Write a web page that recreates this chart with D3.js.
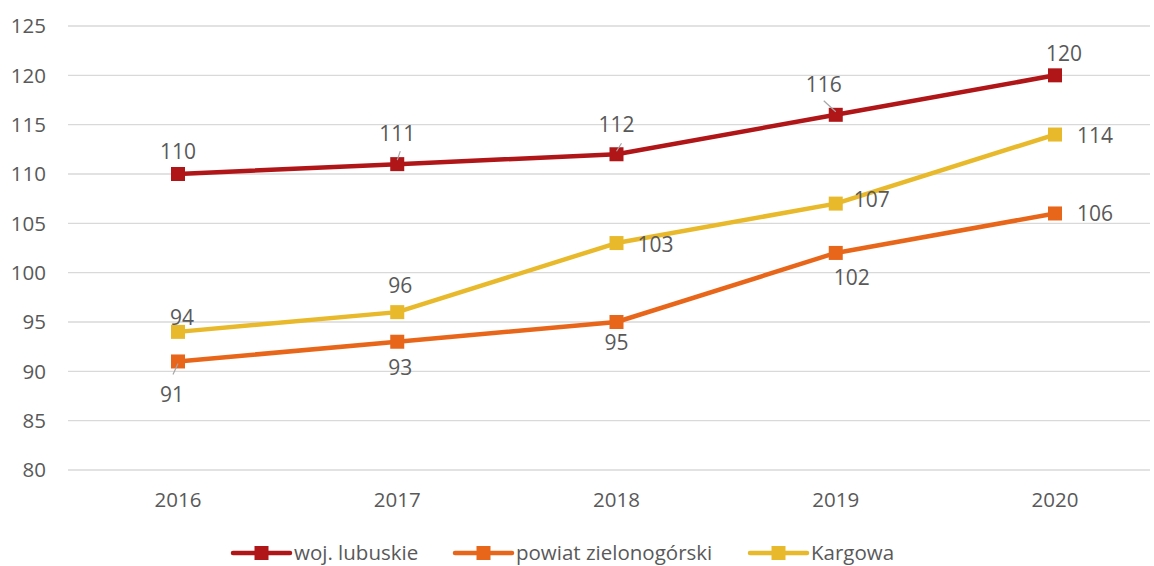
<!DOCTYPE html>
<html><head><meta charset="utf-8">
<script src="https://cdn.jsdelivr.net/npm/d3@7"></script>
<style>body{margin:0;background:#fff}svg{display:block}text{font-family:"Open Sans","Liberation Sans",sans-serif;fill:#595959}</style>
</head><body><svg id="c" width="1154" height="566"></svg>
<script>
const years = ["2016","2017","2018","2019","2020"];
const yTicks = [80,85,90,95,100,105,110,115,120,125];
const seriesNames = ["woj. lubuskie","powiat zielonogórski","Kargowa"];
const lubuskie = [110,111,112,116,120];
const zielonogorski = [91,93,95,102,106];
const kargowa = [94,96,103,107,114];
const colors = ["#B01518","#E8661A","#E8B92B"];

const svg = d3.select("#c");
const x = d3.scalePoint().domain(years).range([178,1055]);
const y = d3.scaleLinear().domain([80,125]).range([470,26]);

// gridlines
svg.append("g").selectAll("line").data(yTicks).join("line")
  .attr("x1",68).attr("x2",1150).attr("y1",d=>y(d)).attr("y2",d=>y(d))
  .attr("stroke","#d9d9d9").attr("stroke-width",1.3);
// y labels
svg.append("g").selectAll("text").data(yTicks).join("text")
  .attr("x",46).attr("y",d=>y(d)).attr("dy","0.35em").attr("text-anchor","end")
  .attr("font-size",20.5).text(d=>d);
// x labels
svg.append("g").selectAll("text").data(years).join("text")
  .attr("x",d=>x(d)).attr("y",500).attr("dy","0.35em").attr("text-anchor","middle")
  .attr("font-size",20.5).text(d=>d);

const data = [lubuskie, zielonogorski, kargowa];
const labelPos = [
  [[0,-22],[0,-30],[0,-30],[-12,-30],[9,-22]],
  [[-6,33],[3,26],[0,21],[16,25],[40,0]],
  [[4,-14],[3,-26],[39,2],[36,-4],[40,1]]
];
const leaders = [
  [null,[[0,-4],[3,-13]],[[0,-3],[5,-11]],[[0,-3],[-12,-14]],null],
  [[[0,2],[-5,13]],null,null,null,null],
  [null,null,null,null,null]
];
const line = d3.line().x((d,i)=>x(years[i])).y(d=>y(d));
[0,1,2].forEach(s=>{
  const g = svg.append("g");
  g.append("path").datum(data[s]).attr("d",line).attr("fill","none")
    .attr("stroke",colors[s]).attr("stroke-width",4.5).attr("stroke-linejoin","round");
  g.selectAll("rect").data(data[s]).join("rect")
    .attr("x",(d,i)=>x(years[i])-7).attr("y",d=>y(d)-7).attr("width",14).attr("height",14)
    .attr("fill",colors[s]);
});
[0,1,2].forEach(s=>{
  data[s].forEach((d,i)=>{
    const px = x(years[i]), py = y(d);
    const ld = leaders[s][i];
    if(ld){
      svg.append("line").attr("x1",px+ld[0][0]).attr("y1",py+ld[0][1])
        .attr("x2",px+ld[1][0]).attr("y2",py+ld[1][1]).attr("stroke","#a6a6a6").attr("stroke-width",1.2);
    }
    const lp = labelPos[s][i];
    svg.append("text").attr("x",px+lp[0]).attr("y",py+lp[1]).attr("dy","0.35em")
      .attr("text-anchor","middle").attr("font-size",21).text(d);
  });
});
// legend
const legX = [233,455,750];
const leg = svg.append("g");
seriesNames.forEach((n,i)=>{
  const lx = legX[i], ly = 553;
  leg.append("line").attr("x1",lx).attr("x2",lx+57).attr("y1",ly).attr("y2",ly)
    .attr("stroke",colors[i]).attr("stroke-width",4.5).attr("stroke-linecap","round");
  leg.append("rect").attr("x",lx+28.5-7).attr("y",ly-7).attr("width",14).attr("height",14).attr("fill",colors[i]);
  leg.append("text").attr("x",lx+61).attr("y",ly).attr("dy","0.35em").attr("font-size",20.5).text(n);
});
</script></body></html>
